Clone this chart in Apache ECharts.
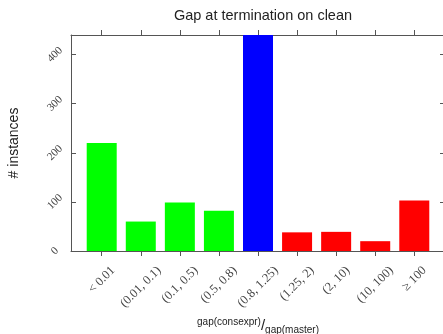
<!DOCTYPE html>
<html>
<head>
<meta charset="utf-8">
<style>html,body{margin:0;padding:0;background:#fff;}#c{width:443px;height:334px;}</style>
<script src="https://cdn.jsdelivr.net/npm/echarts@6/dist/echarts.min.js"></script>
</head>
<body>
<div id="c"></div>
<script>
const categories = ['< 0.01', '(0.01, 0.1)', '(0.1, 0.5)', '(0.5, 0.8)', '(0.8, 1.25)', '(1.25, 2)', '(2, 10)', '(10, 100)', '\u2265 100'];
const counts = [220, 60, 99, 82, 440, 38, 39, 20, 103];
const barColors = ['#00ff00', '#00ff00', '#00ff00', '#00ff00', '#0000ff', '#ff0000', '#ff0000', '#ff0000', '#ff0000'];
const yTicks = [0, 100, 200, 300, 400];

const labelFont = "12.5px 'Liberation Serif'";
const cv = document.createElement('canvas').getContext('2d');
cv.font = labelFont;
const widths = categories.map(c => cv.measureText(c).width);
const wMax = Math.max.apply(null, widths);
const rich = {};
categories.forEach((c, i) => {
  const s = 0.7071 * (wMax - widths[i]) / 2;
  const a = 0.7071 * s;
  rich['l' + i] = {
    fontFamily: 'Liberation Serif', fontSize: 12.5, color: '#444',
    padding: [0, 0, 2 * a, 2 * a]
  };
});

const idx = categories.map((c, i) => i);
const axisColor = '#555';
const chart = echarts.init(document.getElementById('c'));
chart.setOption({
  animation: false,
  backgroundColor: '#fff',
  title: {
    text: 'Gap at termination on clean',
    left: 258, top: 3, textAlign: 'center',
    textStyle: { fontFamily: 'Liberation Sans', fontSize: 14.5, fontWeight: 'normal', color: '#222' }
  },
  grid: { left: 71, top: 35, right: -2, bottom: 83, containLabel: false, outerBoundsMode: 'none' },
  xAxis: [{
    type: 'value', position: 'bottom', min: -0.786, max: 8.786,
    axisLine: { show: true, onZero: false, lineStyle: { color: axisColor } },
    splitLine: { show: false },
    axisTick: { show: true, inside: false, length: 5, lineStyle: { color: axisColor }, customValues: idx },
    axisLabel: {
      customValues: idx, rotate: 45, align: 'center', verticalAlign: 'middle', margin: 36,
      formatter: v => { const i = Math.round(v); return '{l' + i + '|' + categories[i] + '}'; },
      rich: rich
    },
    name: '{a|gap(consexpr)}{s|/}{b|gap(master)}',
    nameLocation: 'middle', nameGap: 62,
    nameTextStyle: {
      rich: {
        a: { fontFamily: 'Liberation Sans', fontSize: 10, color: '#222', verticalAlign: 'top', lineHeight: 18 },
        s: { fontFamily: 'Liberation Sans', fontSize: 15, color: '#222', lineHeight: 18 },
        b: { fontFamily: 'Liberation Sans', fontSize: 10, color: '#222', verticalAlign: 'bottom', lineHeight: 18 }
      }
    }
  }, {
    type: 'value', position: 'top', min: -0.786, max: 8.786,
    axisLine: { show: true, onZero: false, lineStyle: { color: axisColor } },
    splitLine: { show: false },
    axisTick: { show: true, inside: false, length: 5, lineStyle: { color: axisColor }, customValues: idx },
    axisLabel: { show: false }
  }],
  yAxis: [{
    type: 'value', position: 'left', min: 0, max: 440, interval: 100,
    axisLine: { show: true, onZero: false, lineStyle: { color: axisColor } },
    splitLine: { show: false },
    axisTick: { show: true, inside: true, length: 5, lineStyle: { color: axisColor }, customValues: yTicks },
    axisLabel: {
      customValues: yTicks, rotate: 45, align: 'center', verticalAlign: 'middle', margin: 16,
      fontFamily: 'Liberation Serif', fontSize: 11, color: '#444'
    },
    name: '# instances', nameLocation: 'middle', nameGap: 50, nameRotate: 90,
    nameTextStyle: { fontFamily: 'Liberation Sans', fontSize: 14, color: '#222' }
  }, {
    type: 'value', position: 'right', min: 0, max: 440, interval: 100,
    axisLine: { show: true, onZero: false, lineStyle: { color: axisColor } },
    splitLine: { show: false },
    axisTick: { show: true, inside: true, length: 5, lineStyle: { color: axisColor }, customValues: yTicks },
    axisLabel: { show: false }
  }],
  series: [{
    type: 'bar', xAxisIndex: 0, yAxisIndex: 0, barWidth: 30,
    data: counts.map((v, i) => ({ value: [i, v], itemStyle: { color: barColors[i] } }))
  }]
});
</script>
</body>
</html>
